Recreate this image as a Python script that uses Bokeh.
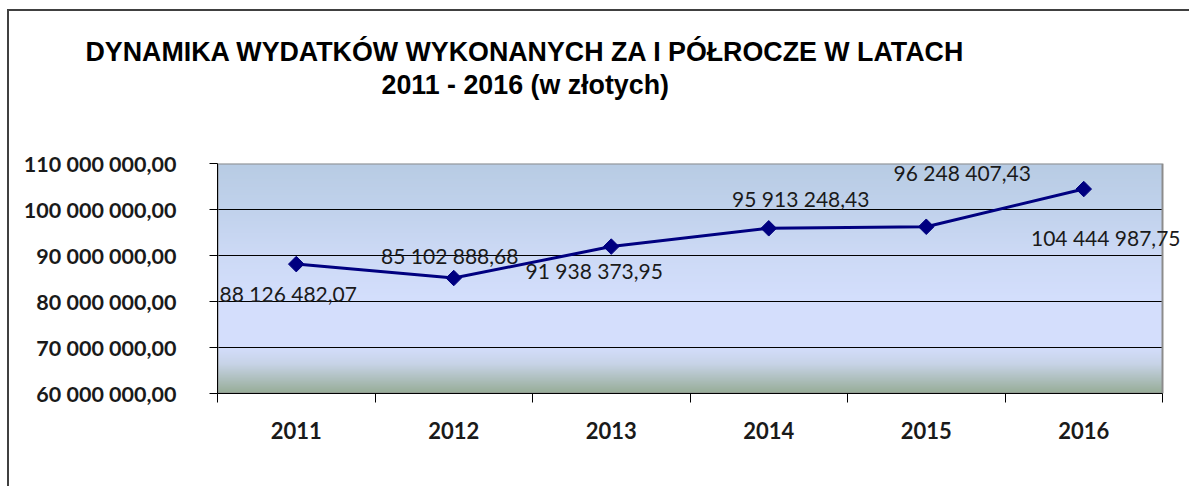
import numpy as np
from bokeh.plotting import figure
from bokeh.models import Range1d, FixedTicker, ColumnDataSource, LabelSet, Title
from bokeh.core.properties import value
from bokeh.embed import file_html
from bokeh.resources import INLINE

# ---- data ----
years = ["2011", "2012", "2013", "2014", "2015", "2016"]
values = [88126482.07, 85102888.68, 91938373.95, 95913248.43, 96248407.43, 104444987.75]
value_labels = ["88 126 482,07", "85 102 888,68", "91 938 373,95",
                "95 913 248,43", "96 248 407,43", "104 444 987,75"]
y_ticks = [60000000, 70000000, 80000000, 90000000, 100000000, 110000000]
y_tick_labels = ["60 000 000,00", "70 000 000,00", "80 000 000,00",
                 "90 000 000,00", "100 000 000,00", "110 000 000,00"]
title_line1 = "DYNAMIKA WYDATKÓW WYKONANYCH ZA I PÓŁROCZE W LATACH"
title_line2 = "2011 - 2016 (w złotych)"

# label placement (screen px offsets relative to each point)
label_dx = [-8, -4, -17, 32, 36, 22]
label_dy = [-29, 23, -24, 30, 54, -48]

n = len(years)
x = list(range(1, n + 1))

# frame geometry (px); the frame reaches a little past the last category so the
# last value label is not clipped
frame_left, frame_right, cat_right = 217, 1186, 1162
x_end = 0.5 + n * (frame_right - frame_left) / (cat_right - frame_left)

p = figure(width=1182, height=477, output_backend="svg", toolbar_location=None,
           x_range=Range1d(0.5, x_end),
           y_range=Range1d(y_ticks[0], y_ticks[-1]),
           min_border_left=208, min_border_right=5, min_border_top=152,
           min_border_bottom=95,
           styles={"border-left": "2px solid #404040", "border-top": "2px solid #404040",
                   "margin-left": "7px", "margin-top": "9px"})

p.border_fill_color = "white"
p.background_fill_color = "white"
p.outline_line_color = None

# gradient background of the plot area
stops_t = [0.0, 0.2, 0.4, 0.6, 0.8, 0.87, 1.0]
stops_r = [184, 193, 205, 212, 212, 200, 150]
stops_g = [204, 210, 218, 223, 222, 212, 172]
stops_b = [228, 236, 246, 253, 252, 232, 150]
H = 230
rows = np.arange(H)
t = 1.0 - (rows + 0.5) / H
img = np.empty((H, 1), dtype=np.uint32)
view = img.view(dtype=np.uint8).reshape((H, 1, 4))
view[:, 0, 0] = np.interp(t, stops_t, stops_r).astype(np.uint8)
view[:, 0, 1] = np.interp(t, stops_t, stops_g).astype(np.uint8)
view[:, 0, 2] = np.interp(t, stops_t, stops_b).astype(np.uint8)
view[:, 0, 3] = 255
bg = p.image_rgba(image=[img], x=0.5, y=y_ticks[0], dw=n, dh=y_ticks[-1] - y_ticks[0])
bg.level = "image"

# grid lines limited to the category area
p.xgrid.grid_line_color = None
p.ygrid.grid_line_color = None
grid_y = y_ticks[1:-1]
p.segment(x0=[0.5] * len(grid_y), x1=[n + 0.5] * len(grid_y), y0=grid_y, y1=grid_y,
          line_color="black", line_width=1)
# plot area outline
p.quad(left=[0.5], right=[n + 0.5], bottom=[y_ticks[0]], top=[y_ticks[-1]],
       fill_color=None, line_color="#8c8c8c", line_width=2)

# data
src = ColumnDataSource(dict(x=x, y=values, lab=value_labels, dx=label_dx, dy=label_dy))
p.line("x", "y", source=src, line_color="#000080", line_width=3)
p.scatter("x", "y", source=src, marker="square", angle=0.785398, size=11,
          fill_color="#000080", line_color="#000080")

labels = LabelSet(x="x", y="y", text="lab", source=src, x_offset="dx", y_offset="dy",
                  text_align="center", text_baseline="middle",
                  text_font=value("Lato"), text_font_size=value("21px"),
                  text_color="#1a1a1a")
p.add_layout(labels)

# x axis
p.xaxis.bounds = (0.5, n + 0.5)
p.xaxis.ticker = FixedTicker(ticks=x, minor_ticks=[i + 0.5 for i in range(n + 1)])
p.xaxis.major_label_overrides = {i + 1: years[i] for i in range(n)}
p.xaxis.major_tick_line_color = None
p.xaxis.major_tick_out = 0
p.xaxis.major_tick_in = 0
p.xaxis.minor_tick_line_color = "black"
p.xaxis.minor_tick_out = 9
p.xaxis.minor_tick_in = 0
p.xaxis.axis_line_color = "black"
p.xaxis.major_label_standoff = 19
p.xaxis.major_label_text_font = "Lato"
p.xaxis.major_label_text_font_style = "bold"
p.xaxis.major_label_text_font_size = "22px"
p.xaxis.major_label_text_color = "#1a1a1a"

# y axis
p.yaxis.ticker = FixedTicker(ticks=y_ticks)
p.yaxis.major_label_overrides = {y_ticks[i]: y_tick_labels[i] for i in range(len(y_ticks))}
p.yaxis.major_tick_out = 8
p.yaxis.major_tick_in = 0
p.yaxis.major_tick_line_color = "black"
p.yaxis.minor_tick_line_color = None
p.yaxis.axis_line_color = "black"
p.yaxis.major_label_standoff = 33
p.yaxis.major_label_text_font = "Lato"
p.yaxis.major_label_text_font_style = "bold"
p.yaxis.major_label_text_font_size = "21.5px"
p.yaxis.major_label_text_color = "#1a1a1a"

# title: spacer, then second line, then first line (stacked outward)
p.title.visible = False
p.add_layout(Title(text=" ", text_font_size="42px"), "above")
p.add_layout(Title(text=title_line2, align="left", offset=164,
                   text_font="Liberation Sans", text_font_style="bold",
                   text_font_size="26.8px", text_color="black"), "above")
t1 = Title(text=title_line1, align="left", offset=-132,
           text_font="Liberation Sans", text_font_style="bold",
           text_font_size="26.8px", text_color="black")
if "standoff" in Title.properties():
    t1.standoff = -9
p.add_layout(t1, "above")

open("out.html", "w").write(file_html(p, INLINE))
